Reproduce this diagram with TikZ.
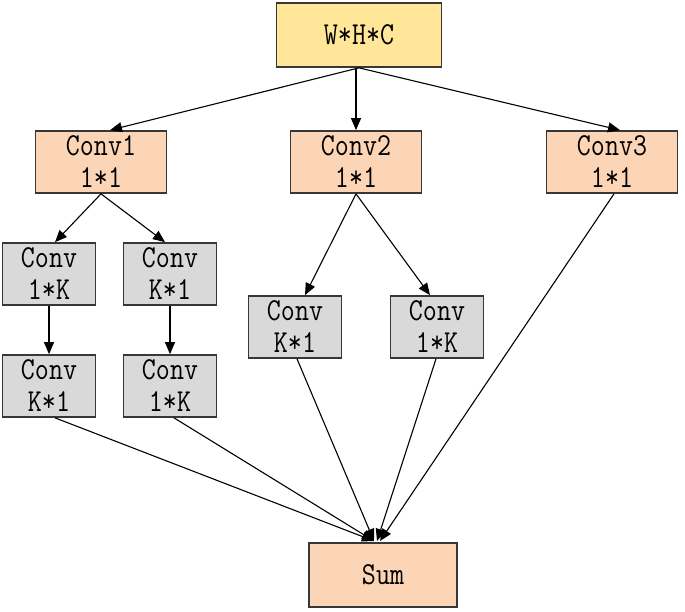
\documentclass[tikz,border=0pt]{standalone}
\usepackage{fontspec}
\usetikzlibrary{arrows.meta}
\newfontfamily\boxfont[FakeStretch=0.85]{Latin Modern Mono}
\definecolor{yel}{RGB}{255,230,153}
\definecolor{peach}{RGB}{251,213,181}
\definecolor{grayf}{RGB}{217,217,217}
\definecolor{edge}{RGB}{55,55,55}
\begin{document}
\begin{tikzpicture}[x=1pt,y=-1pt,
  box/.style={draw=edge,line width=1.7pt,inner sep=0pt,align=center,
    font=\boxfont\fontsize{32}{32}\selectfont},
  topbox/.style={box,fill=yel,minimum width=165pt,minimum height=64pt},
  pbox/.style={box,fill=peach,minimum width=131pt,minimum height=62pt},
  gbox/.style={box,fill=grayf,minimum width=93pt,minimum height=62pt},
  sumbox/.style={box,fill=peach,minimum width=148pt,minimum height=64pt},
  arr/.style={line width=1.1pt,-{Triangle[length=12pt,width=10pt]}},
  ln/.style={line width=1pt}]
\useasboundingbox (0,0) rectangle (685,611);
\node[topbox] (top) at (359,35) {W*H*C};
\node[pbox] (c1) at (101,162) {Conv1\\1*1};
\node[pbox] (c2) at (356,162) {Conv2\\1*1};
\node[pbox] (c3) at (612,162) {Conv3\\1*1};
\node[gbox] (a1) at (49,274) {Conv\\1*K};
\node[gbox] (b1) at (170,274) {Conv\\K*1};
\node[gbox] (a2) at (49,386) {Conv\\K*1};
\node[gbox] (b2) at (170,386) {Conv\\1*K};
\node[gbox] (m1) at (295,327) {Conv\\K*1};
\node[gbox] (m2) at (437,327) {Conv\\1*K};
\node[sumbox] (sum) at (383,575) {Sum};
\coordinate (sin) at (374,541);
\draw[arr] (top.south) -- ([xshift=9pt]c1.north);
\draw[arr] ([xshift=-3pt]top.south) -- (c2.north);
\draw[arr] (top.south) -- ([xshift=8pt]c3.north);
\draw[arr] (c1.south) -- ([xshift=6pt]a1.north);
\draw[arr] (c1.south) -- ([xshift=-5pt]b1.north);
\draw[arr] (a1.south) -- (a2.north);
\draw[arr] (b1.south) -- (b2.north);
\draw[arr] (c2.south) -- ([xshift=10pt]m1.north);
\draw[arr] (c2.south) -- ([xshift=-7pt]m2.north);
\draw[arr] ([xshift=6pt]a2.south) -- (sin);
\draw[arr] ([xshift=4pt]b2.south) -- (sin);
\draw[arr] ([xshift=2pt]m1.south) -- (sin);
\draw[arr] ([xshift=-1pt]m2.south) -- ([xshift=3pt]sin);
\draw[arr] ([xshift=2pt]c3.south) -- ([xshift=6pt]sin);
\end{tikzpicture}
\end{document}
